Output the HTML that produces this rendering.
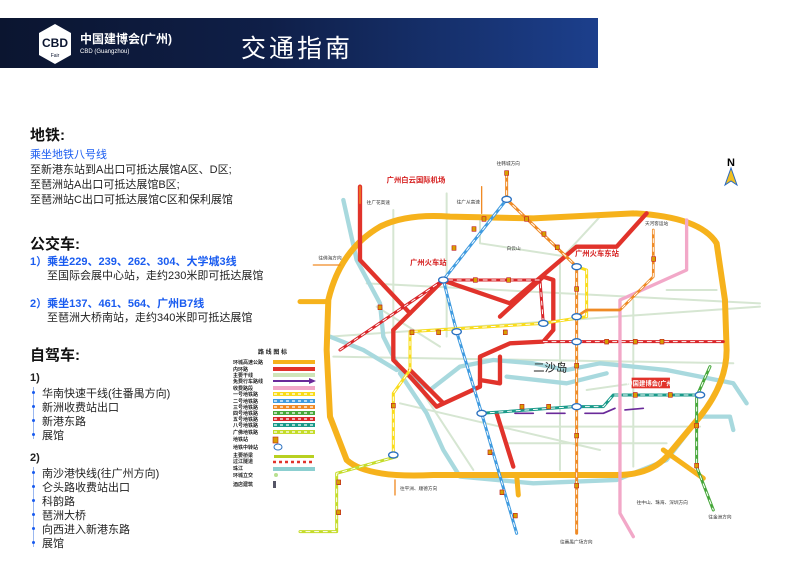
<!DOCTYPE html>
<html><head><meta charset="utf-8"><style>
body{margin:0;width:800px;height:577px;background:#fff;position:relative;overflow:hidden;font-family:"Liberation Sans","Noto Sans CJK SC",sans-serif;}
.hdr{position:absolute;left:0;top:18px;width:598px;height:50px;background:linear-gradient(90deg,#0b1530 0%,#0f1f48 45%,#1c3f8c 100%);}
.t{position:absolute;white-space:nowrap;color:#222;font-size:11px;}
.h{font-size:15px;font-weight:bold;color:#111;}
.b{color:#1a5cf0;}
.bb{color:#1a5cf0;font-weight:bold;}
.dot{position:absolute;left:32px;width:3px;height:3px;background:#1a5cf0;border-radius:50%;}
</style></head><body>
<div class="hdr"></div>
<svg style="position:absolute;left:36px;top:22px" width="38" height="44" viewBox="0 0 38 44"><polygon points="19,2 35,11 35,33 19,42 3,33 3,11" fill="#fff"/><text x="19" y="25" font-size="12" font-family="Liberation Sans" text-anchor="middle" fill="#0b1530" font-weight="bold">CBD</text><text x="19" y="35" font-size="5" text-anchor="middle" fill="#0b1530" font-family="Liberation Sans">Fair</text></svg>
<div class="t" style="left:80px;top:30px;color:#fff;font-size:12px;font-weight:bold">中国建博会(广州)</div>
<div class="t" style="left:80px;top:49px;color:#fff;font-size:6px">CBD (Guangzhou)</div>
<div class="t" style="left:241px;top:29px;color:#fff;font-size:25px;letter-spacing:3px">交通指南</div>

<div class="t h" style="left:30px;top:124px">地铁:</div>
<div class="t b" style="left:30px;top:146px">乘坐地铁八号线</div>
<div class="t" style="left:30px;top:161px">至新港东站到A出口可抵达展馆A区、D区;</div>
<div class="t" style="left:30px;top:176px">至琶洲站A出口可抵达展馆B区;</div>
<div class="t" style="left:30px;top:191px">至琶洲站C出口可抵达展馆C区和保利展馆</div>
<div class="t h" style="left:30px;top:233px">公交车:</div>
<div class="t bb" style="left:30px;top:253px">1）乘坐229、239、262、304、大学城3线</div>
<div class="t" style="left:47px;top:267px">至国际会展中心站，走约230米即可抵达展馆</div>
<div class="t bb" style="left:30px;top:295px">2）乘坐137、461、564、广州B7线</div>
<div class="t" style="left:47px;top:309px">至琶洲大桥南站，走约340米即可抵达展馆</div>
<div class="t h" style="left:30px;top:344px">自驾车:</div>
<div class="t" style="left:30px;top:372px;font-weight:bold">1)</div>
<div style="position:absolute;left:33px;top:387px;width:1px;height:52px;background:#9bb8f0"></div>
<div class="dot" style="top:391px"></div><div class="dot" style="top:405px"></div><div class="dot" style="top:419px"></div><div class="dot" style="top:433px"></div>
<div class="t" style="left:42px;top:385px">华南快速干线(往番禺方向)</div>
<div class="t" style="left:42px;top:399px">新洲收费站出口</div>
<div class="t" style="left:42px;top:413px">新港东路</div>
<div class="t" style="left:42px;top:427px">展馆</div>
<div class="t" style="left:30px;top:452px;font-weight:bold">2)</div>
<div style="position:absolute;left:33px;top:467px;width:1px;height:80px;background:#9bb8f0"></div>
<div class="dot" style="top:471px"></div><div class="dot" style="top:485px"></div><div class="dot" style="top:499px"></div><div class="dot" style="top:513px"></div><div class="dot" style="top:527px"></div><div class="dot" style="top:541px"></div>
<div class="t" style="left:42px;top:465px">南沙港快线(往广州方向)</div>
<div class="t" style="left:42px;top:479px">仑头路收费站出口</div>
<div class="t" style="left:42px;top:493px">科韵路</div>
<div class="t" style="left:42px;top:507px">琶洲大桥</div>
<div class="t" style="left:42px;top:521px">向西进入新港东路</div>
<div class="t" style="left:42px;top:535px">展馆</div>

<svg style="position:absolute;left:0;top:0" width="800" height="577">
<g transform="translate(300,150) scale(0.3333)" fill="none" stroke-linejoin="round" stroke-linecap="round">
 <g stroke="#d6e6d2" stroke-width="6">
  <path d="M90,560 L1380,470"/><path d="M100,620 L1300,640"/><path d="M440,130 L440,560"/><path d="M540,200 L540,280 L800,320"/>
  <path d="M780,330 L780,960"/><path d="M900,200 L780,330"/><path d="M200,400 L1380,460"/><path d="M280,180 L280,560"/>
  <path d="M300,760 L900,900"/><path d="M350,700 L520,960"/><path d="M600,830 L1200,830"/><path d="M1000,450 L1000,950"/>
  <path d="M1100,420 L1250,420"/><path d="M860,720 L1000,700"/><path d="M230,470 L420,590"/><path d="M620,880 L1100,880"/>
 </g>
 <g stroke="#a8d9de" stroke-width="13">
  <path d="M130,150 L170,330 L240,460 L250,560 L300,660 L390,720 L480,650 L580,630 L700,640 L800,660 L900,640 L1000,650 L1100,660 L1200,680 L1300,700 L1340,760"/>
  <path d="M90,560 L190,600 L290,660"/>
  <path d="M300,670 L380,790 L430,900 L480,980 L700,1000 L950,990 L1100,930 L1200,800 L1290,800 L1300,840"/>
  <path d="M620,680 L800,700 L920,670"/>
 </g>
 <path stroke="#f6b21c" stroke-width="18" d="M240,230 Q320,190 450,200 L700,205 L1000,190 Q1200,200 1250,280 L1275,450 L1280,600 Q1280,700 1200,800 L1100,920 Q1050,975 950,975 L700,975 L400,975 Q200,985 140,930 L90,800 L80,600 L85,450 Q120,300 240,230 Z"/>
 <path stroke="#f6b21c" stroke-width="15" d="M85,455 L0,455 M1090,900 L1210,985 M650,975 L655,1035"/>
 <g stroke="#e1332b" stroke-width="13">
  <path d="M180,110 L180,330 L330,490"/>
  <path d="M280,540 L280,630 L330,680 L410,770 L540,710 L540,620 L630,580 L730,575 L760,540 L760,390 L730,380"/>
  <path d="M440,395 L630,460 L830,290 L950,290 L1040,190"/>
  <path d="M280,540 L430,390"/><path d="M540,690 L600,700 L600,620"/><path d="M590,790 L640,950"/>
  <path d="M330,660 L430,760"/><path d="M730,380 L600,500"/>
 </g>
 <path stroke="#f08a24" stroke-width="4" d="M545,110 L545,190 M180,110 L180,160 M40,345 L120,345 M285,990 L285,1035"/>
 <path stroke="#ef8a25" stroke-width="9" d="M620,70 L620,148 L830,350 L830,1150"/>
 <path stroke="#fff" stroke-width="3" stroke-dasharray="12 14" d="M620,70 L620,148 L830,350 L830,1150"/>
 <path stroke="#3f9be0" stroke-width="9" d="M620,148 L430,390 L470,545 L545,790 L650,1150"/>
 <path stroke="#fff" stroke-width="3" stroke-dasharray="12 14" d="M620,148 L430,390 L470,545 L545,790 L650,1150"/>
 <path stroke="#f9dc1b" stroke-width="9" d="M830,350 L860,360 L860,500 L730,520 L330,545 L330,660 L280,730 L280,920"/>
 <path stroke="#fff" stroke-width="3" stroke-dasharray="12 14" d="M860,360 L860,500 L730,520 L330,545 L330,660 L280,730 L280,920"/>
 <path stroke="#d9262a" stroke-width="9" d="M120,600 L430,390 L720,390 L730,520 M730,575 L1270,575"/>
 <path stroke="#fff" stroke-width="3" stroke-dasharray="12 14" d="M120,600 L430,390 L720,390 L730,520 M730,575 L1270,575"/>
 <path stroke="#1a9a8a" stroke-width="9" d="M545,790 L820,770 L910,770 L940,735 L1200,735"/>
 <path stroke="#fff" stroke-width="3" stroke-dasharray="12 14" d="M545,790 L820,770 L910,770 L940,735 L1200,735"/>
 <path stroke="#47a83b" stroke-width="9" d="M1230,650 L1190,740 L1190,950 L1240,1080"/>
 <path stroke="#fff" stroke-width="3" stroke-dasharray="12 14" d="M1230,650 L1190,740 L1190,950 L1240,1080"/>
 <path stroke="#c5dc2a" stroke-width="9" d="M290,920 L110,970 L110,1145 L0,1145"/>
 <path stroke="#fff" stroke-width="3" stroke-dasharray="12 14" d="M290,920 L110,970 L110,1145 L0,1145"/>
 <path stroke="#f2a8c8" stroke-width="10" d="M1160,210 L1160,360 L960,450 L960,1090 L1000,1160"/>
 <path stroke="#ef8a25" stroke-width="8" d="M1060,240 L1060,380 L960,480 L860,480 L830,500"/>
 <path stroke="#fff" stroke-width="3" stroke-dasharray="12 14" d="M1060,240 L1060,380 L960,480"/>
 <g stroke="#6a2a9a" stroke-width="5"><path d="M645,790 L700,790 M740,790 L795,790 M855,790 L910,790 M975,780 L1030,775 M910,790 L945,775"/></g>
 <g fill="#fff" stroke="#2a70c0" stroke-width="4">
  <ellipse cx="620" cy="148" rx="14" ry="9"/><ellipse cx="430" cy="390" rx="14" ry="9"/><ellipse cx="470" cy="545" rx="14" ry="9"/>
  <ellipse cx="545" cy="790" rx="14" ry="9"/><ellipse cx="830" cy="350" rx="14" ry="9"/><ellipse cx="830" cy="500" rx="14" ry="9"/>
  <ellipse cx="830" cy="575" rx="14" ry="9"/><ellipse cx="730" cy="520" rx="14" ry="9"/><ellipse cx="830" cy="770" rx="14" ry="9"/>
  <ellipse cx="1200" cy="735" rx="14" ry="9"/><ellipse cx="280" cy="915" rx="14" ry="9"/>
 </g>
 <rect x="995" y="683" width="115" height="32" fill="#e1332b"/>
 <text x="1052" y="706" fill="#fff" font-size="19" text-anchor="middle" stroke="none" font-family="Liberation Sans,Noto Sans CJK SC,sans-serif" font-weight="bold">中国建博会(广州)</text>
 <g stroke="none" fill="#222" font-size="34" font-family="Liberation Sans,Noto Sans CJK SC,sans-serif"><text x="700" y="665">二沙岛</text></g>
 <g stroke="none" fill="#d62020" font-size="22" font-family="Liberation Sans,Noto Sans CJK SC,sans-serif" font-weight="bold">
  <text x="260" y="98">广州白云国际机场</text><text x="330" y="345">广州火车站</text><text x="825" y="318">广州火车东站</text>
 </g>
 <g stroke="none" fill="#333" font-size="14" font-family="Liberation Sans,Noto Sans CJK SC,sans-serif">
  <text x="590" y="45">往韩城方向</text><text x="200" y="162">往广花高速</text><text x="470" y="160">往广从高速</text><text x="55" y="328">往佛海方向</text>
  <text x="620" y="300">白云山</text><text x="1035" y="225">天河客运站</text><text x="300" y="1020">往平洲、顺德方向</text>
  <text x="1010" y="1062">往中山、珠海、深圳方向</text><text x="780" y="1180">往番禺广场方向</text><text x="1225" y="1105">往金洲方向</text>
 </g>
 <g fill="#d8a000" stroke="#c02020" stroke-width="2">
  <rect x="614" y="62" width="12" height="14"/><rect x="546" y="200" width="12" height="14"/><rect x="516" y="230" width="12" height="14"/><rect x="456" y="287" width="12" height="14"/>
  <rect x="674" y="200" width="12" height="14"/><rect x="726" y="245" width="12" height="14"/><rect x="766" y="285" width="12" height="14"/>
  <rect x="824" y="410" width="12" height="14"/><rect x="824" y="640" width="12" height="14"/><rect x="824" y="850" width="12" height="14"/><rect x="824" y="1000" width="12" height="14"/>
  <rect x="564" y="900" width="12" height="14"/><rect x="600" y="1020" width="12" height="14"/><rect x="640" y="1090" width="12" height="14"/>
  <rect x="410" y="540" width="12" height="14"/><rect x="610" y="540" width="12" height="14"/><rect x="330" y="540" width="12" height="14"/>
  <rect x="914" y="568" width="12" height="14"/><rect x="1000" y="568" width="12" height="14"/><rect x="1080" y="568" width="12" height="14"/>
  <rect x="110" y="990" width="12" height="14"/><rect x="110" y="1080" width="12" height="14"/><rect x="274" y="760" width="12" height="14"/>
  <rect x="1184" y="820" width="12" height="14"/><rect x="1184" y="940" width="12" height="14"/><rect x="1055" y="320" width="12" height="14"/>
  <rect x="620" y="383" width="12" height="14"/><rect x="520" y="383" width="12" height="14"/><rect x="234" y="465" width="12" height="14"/>
  <rect x="660" y="763" width="12" height="14"/><rect x="740" y="763" width="12" height="14"/><rect x="1000" y="728" width="12" height="14"/><rect x="1105" y="728" width="12" height="14"/>
 </g>
</g>
<text x="727" y="166" font-size="11" font-family="Liberation Sans" font-weight="bold">N</text>
<polygon points="731,168 725,185 731,181 737,185" fill="#f2c020" stroke="#2a6ac0" stroke-width="1"/>
<g font-family="Liberation Sans,Noto Sans CJK SC,sans-serif" font-size="5" fill="#222" font-weight="bold">
<text x="258" y="354" font-size="6">路 线 图 标</text>
<text x="233" y="364">环城高速公路</text><rect x="273" y="360" width="42" height="4" fill="#f6b21c"/>
<text x="233" y="371">内环路</text><rect x="273" y="367" width="42" height="4" fill="#e1332b"/>
<text x="233" y="377">主要干线</text><rect x="273" y="373" width="42" height="4" fill="#cfe5b8"/>
<text x="233" y="383">免费行车路线</text><rect x="273" y="380" width="38" height="2" fill="#6a2a9a"/><polygon points="309,378 316,381 309,384" fill="#6a2a9a"/>
<text x="233" y="390">收费路段</text><rect x="273" y="386" width="42" height="4" fill="#f2a8c8"/>
<rect x="273" y="392" width="42" height="4" fill="#f9dc1b"/><text x="233" y="396">一号地铁路</text>
<rect x="273" y="399" width="42" height="4" fill="#3f9be0"/><text x="233" y="403">二号地铁路</text>
<rect x="273" y="405" width="42" height="4" fill="#ef8a25"/><text x="233" y="409">三号地铁路</text>
<rect x="273" y="411" width="42" height="4" fill="#47a83b"/><text x="233" y="415">四号地铁路</text>
<rect x="273" y="417" width="42" height="4" fill="#d9262a"/><text x="233" y="421">五号地铁路</text>
<rect x="273" y="423" width="42" height="4" fill="#1a9a8a"/><text x="233" y="427">八号地铁路</text>
<rect x="273" y="430" width="42" height="4" fill="#c5dc2a"/><text x="233" y="434">广佛地铁路</text>
<text x="233" y="441">地铁站</text><rect x="273" y="437" width="5" height="6" fill="#d8a000" stroke="#c02020" stroke-width=".6"/>
<text x="233" y="449">地铁中转站</text><ellipse cx="278" cy="447" rx="4" ry="3" fill="#fff" stroke="#2a70c0"/>
<text x="233" y="457">主要桥梁</text><rect x="274" y="455" width="40" height="3" fill="#b8d020"/>
<text x="233" y="463">过江隧道</text><line x1="273" y1="462" x2="315" y2="462" stroke="#e1332b" stroke-width="2.5" stroke-dasharray="3 3"/>
<text x="233" y="470">珠江</text><rect x="273" y="467" width="42" height="4" fill="#8ccfd0"/>
<text x="233" y="477">环城立交</text><circle cx="276" cy="475" r="2" fill="#b8e090"/>
<text x="233" y="486">酒店建筑</text><rect x="273" y="481" width="3" height="7" fill="#556"/>
</g>
<g stroke="#fff" stroke-width="1.2" stroke-dasharray="3 3"><line x1="274" y1="394" x2="314" y2="394"/><line x1="274" y1="401" x2="314" y2="401"/><line x1="274" y1="407" x2="314" y2="407"/><line x1="274" y1="413" x2="314" y2="413"/><line x1="274" y1="419" x2="314" y2="419"/><line x1="274" y1="425" x2="314" y2="425"/><line x1="274" y1="432" x2="314" y2="432"/></g>
</svg>
</body></html>
